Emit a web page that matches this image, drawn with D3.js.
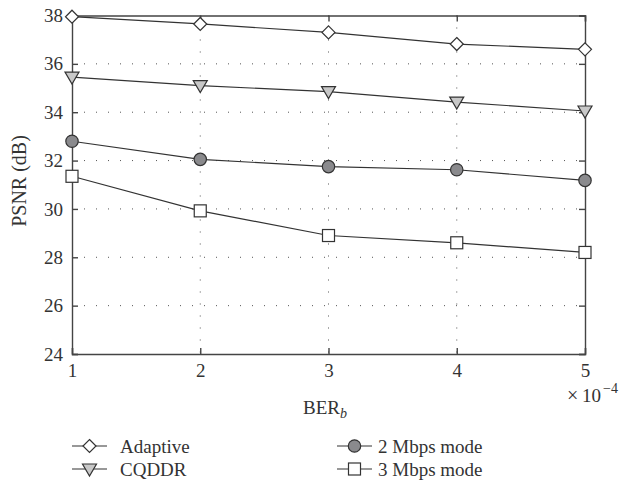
<!DOCTYPE html>
<html><head><meta charset="utf-8">
<script src="https://cdn.jsdelivr.net/npm/d3@7"></script>
<style>body{margin:0;background:#fff}svg{display:block}text{font-family:"Liberation Serif","DejaVu Serif",serif;fill:#333}</style>
</head><body><svg id="c" width="624" height="491"></svg>
<script>
const xValues = [1, 2, 3, 4, 5];
const adaptive = [37.95, 37.65, 37.3, 36.82, 36.6];
const cqddr = [35.45, 35.1, 34.85, 34.42, 34.05];
const mbps2 = [32.8, 32.05, 31.75, 31.62, 31.18];
const mbps3 = [31.35, 29.92, 28.9, 28.6, 28.2];
const yTicks = [24, 26, 28, 30, 32, 34, 36, 38];
const xTicks = [1, 2, 3, 4, 5];
const seriesNames = ["Adaptive", "CQDDR", "2 Mbps mode", "3 Mbps mode"];

const svg = d3.select("#c");
const L = 72, R = 585, T = 15.5, B = 354;
const x = d3.scaleLinear().domain([1, 5]).range([L, R]);
const y = d3.scaleLinear().domain([24, 38]).range([B, T]);
const ax = "#444";

// grid
const g = svg.append("g");
g.selectAll("line.gy").data(yTicks.filter(v => v > 24 && v < 38)).enter().append("line")
  .attr("x1", L).attr("x2", R).attr("y1", d => y(d)).attr("y2", d => y(d))
  .attr("stroke", "#555").attr("stroke-width", 1).attr("stroke-dasharray", "1,11");
g.selectAll("line.gx").data(xTicks.filter(v => v > 1 && v < 5)).enter().append("line")
  .attr("y1", T).attr("y2", B).attr("x1", d => x(d)).attr("x2", d => x(d))
  .attr("stroke", "#555").attr("stroke-width", 1).attr("stroke-dasharray", "1,11");

// axes (ticks inward)
const fs = "19px";
const yl = svg.append("g").attr("transform", `translate(${L},0)`)
  .call(d3.axisLeft(y).tickValues(yTicks).tickSize(-6).tickPadding(9).tickFormat(d3.format("d")));
const yr = svg.append("g").attr("transform", `translate(${R},0)`)
  .call(d3.axisRight(y).tickValues(yTicks).tickSize(-6).tickFormat(""));
const xb = svg.append("g").attr("transform", `translate(0,${B})`)
  .call(d3.axisBottom(x).tickValues(xTicks).tickSize(-6).tickPadding(10).tickFormat(d3.format("d")));
const xt = svg.append("g").attr("transform", `translate(0,${T})`)
  .call(d3.axisTop(x).tickValues(xTicks).tickSize(-6).tickFormat(""));
[yl, yr, xb, xt].forEach(a => {
  a.attr("font-size", null).attr("font-family", null);
  a.selectAll("path").attr("stroke", ax).attr("stroke-width", 1.4);
  a.selectAll("line").attr("stroke", ax).attr("stroke-width", 1.4);
  a.selectAll("text").style("font-size", fs).style("font-family", "Liberation Serif, serif").attr("fill", "#333");
});

// labels
svg.append("text").attr("transform", `translate(26,181) rotate(-90)`)
  .attr("text-anchor", "middle").style("font-size", "20px").text("PSNR (dB)");
const xl = svg.append("text").attr("x", 303).attr("y", 414).style("font-size", "19px");
xl.append("tspan").text("BER");
xl.append("tspan").attr("dy", 4).style("font-size", "14px").style("font-style", "italic").text("b");
const ex = svg.append("text").attr("y", 402).style("font-size", "19px");
ex.append("tspan").attr("x", 567).style("font-size", "20px").text("×");
ex.append("tspan").attr("x", 582).text("10");
ex.append("tspan").attr("x", 603).attr("dy", -9).style("font-size", "14px").text("−4");

// markers
function drawMarker(sel, type) {
  if (type === 0) sel.append("path").attr("d", "M0,-6.5L6.5,0L0,6.5L-6.5,0Z").attr("fill", "#fff");
  else if (type === 1) sel.append("path").attr("d", "M-7,-5L7,-5L0,7Z").attr("fill", "#c8c8c8");
  else if (type === 2) sel.append("circle").attr("r", 6.2).attr("fill", "#8a8a8d");
  else sel.append("rect").attr("x", -6).attr("y", -6).attr("width", 12).attr("height", 12).attr("fill", "#fff");
  sel.selectAll("*").attr("stroke", "#333").attr("stroke-width", 1.2);
}

const allSeries = [adaptive, cqddr, mbps2, mbps3];
const line = d3.line().x((d, i) => x(xValues[i])).y(d => y(d));
allSeries.forEach((s, k) => {
  svg.append("path").attr("d", line(s)).attr("fill", "none").attr("stroke", "#333").attr("stroke-width", 1.2);
  s.forEach((v, i) => {
    const m = svg.append("g").attr("transform", `translate(${x(xValues[i])},${y(v)})`);
    drawMarker(m, k);
  });
});

// legend
const legPos = [[72, 446, 120], [72, 469, 120], [337, 446, 378], [337, 469, 378]];
seriesNames.forEach((n, k) => {
  const [lx, ly, tx] = legPos[k];
  svg.append("line").attr("x1", lx).attr("x2", lx + 35).attr("y1", ly).attr("y2", ly).attr("stroke", "#333").attr("stroke-width", 1.2);
  const m = svg.append("g").attr("transform", `translate(${lx + 17.5},${ly})`);
  drawMarker(m, k);
  svg.append("text").attr("x", tx).attr("y", ly + 7).style("font-size", "19px").text(n);
});
</script></body></html>
